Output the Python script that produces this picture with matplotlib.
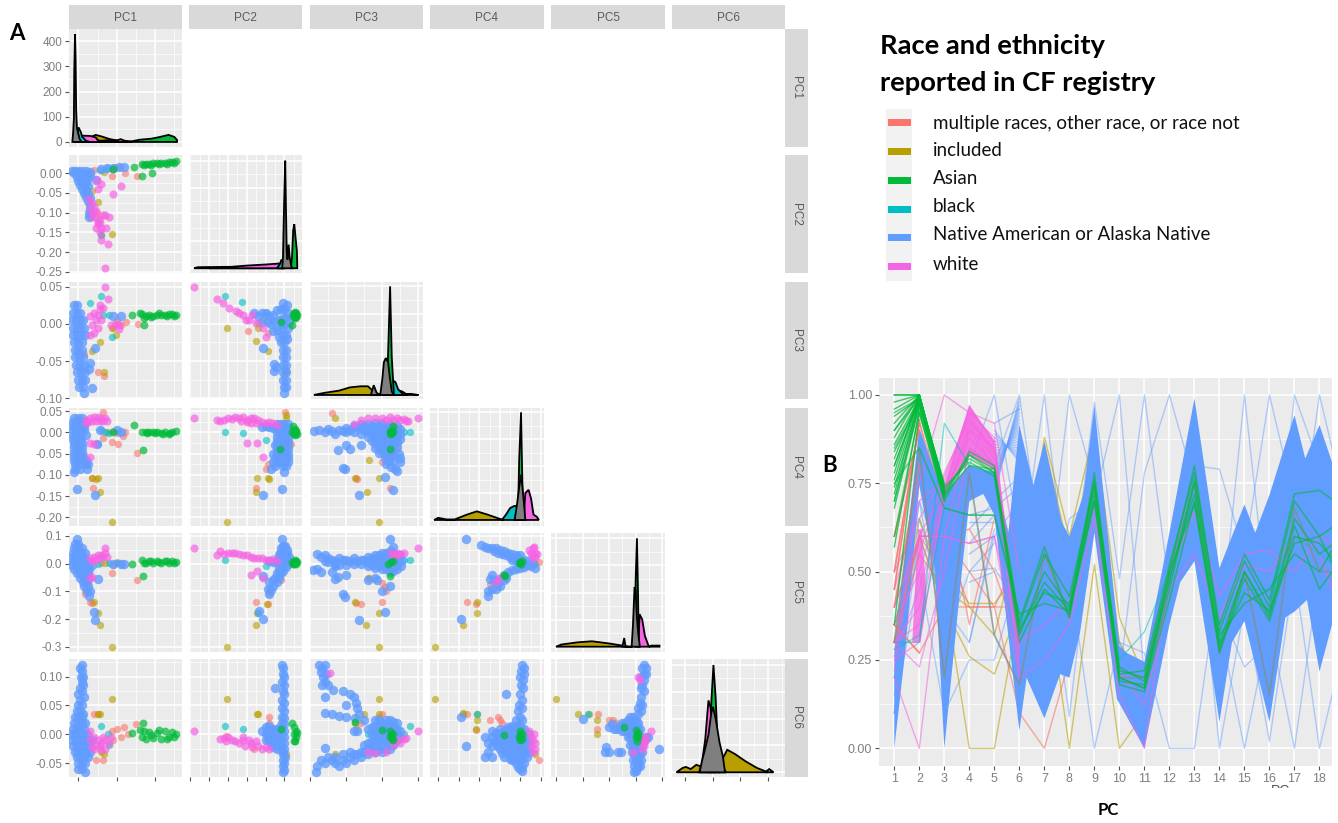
import matplotlib
matplotlib.use('Agg')
import matplotlib.pyplot as plt
from matplotlib.patches import Rectangle

W, H = 1338, 823
plt.rcParams['font.family'] = ['Liberation Sans', 'DejaVu Sans']

RED, OLIVE, GREEN, TEAL, BLUE, PINK = '#F8766D', '#B79F00', '#00BA38', '#00BFC4', '#619CFF', '#F564E3'
GRAY = '#7F7F7F'

pc_names = ['PC1', 'PC2', 'PC3', 'PC4', 'PC5', 'PC6']
legend_labels = ['multiple races, other race, or race not', 'included', 'Asian', 'black',
                 'Native American or Alaska Native', 'white']
legend_colors = [RED, OLIVE, GREEN, TEAL, BLUE, PINK]

# axis ranges and ticks of each PC, read from the strips of the matrix
pc1_range, pc1_ticks = (-0.026, 0.27), [0.0, 0.1, 0.2]
pc2_range, pc2_ticks = (-0.2533, 0.0465), [-0.25, -0.20, -0.15, -0.10, -0.05, 0.00]
pc3_range, pc3_ticks = (-0.101, 0.0563), [-0.10, -0.05, 0.00, 0.05]
pc4_range, pc4_ticks = (-0.22, 0.0575), [-0.20, -0.15, -0.10, -0.05, 0.00, 0.05]
pc5_range, pc5_ticks = (-0.319, 0.1108), [-0.3, -0.2, -0.1, 0.0, 0.1]
pc6_range, pc6_ticks = (-0.0741, 0.1307), [-0.05, 0.00, 0.05, 0.10]
pc1_y_range, pc1_y_ticks = (-20, 448), [0, 100, 200, 300, 400]

# scatter points, name is p<row pc><col pc>_<colour>, (x, y)
p21_blue = [(-.018,.005),(-.01,.005),(0,.005),(.01,.005),(.02,.005),(.03,.003),(-.012,0),(0,-.002),(.01,-.002),(.02,-.002),(.03,-.005),(-.005,-.01),(.005,-.01),(.015,-.01),(.025,-.012),(0,-.02),(.01,-.02),(.02,-.022),(.005,-.03),(.015,-.03),(.025,-.032),(.01,-.04),(.02,-.042),(.015,-.05),(.025,-.052),(.02,-.06),(.03,-.062),(.025,-.07),(.03,-.08),(.03,-.09),(.028,-.1),(.028,-.11),(.045,-.018),(.06,.012),(.075,.013),(.09,.014),(.105,.015),(.12,.015)]
p21_pink = [(.028,-.065),(.035,-.075),(.04,-.085),(.03,-.09),(.037,-.1),(.045,-.095),(.035,-.11),(.045,-.11),(.05,-.12),(.05,-.13),(.045,-.14),(.055,-.125),(.06,-.14),(.055,-.15),(.058,-.17),(.07,-.105),(.063,-.105),(.08,-.11),(.072,-.138),(.077,-.18),(.07,-.24),(.09,-.053),(.111,-.032),(.06,-.028),(.048,-.017),(.05,-.04)]
p21_green = [(.165,.024),(.175,.024),(.185,.024),(.195,.025),(.205,.025),(.215,.026),(.225,.027),(.235,.028),(.245,.029),(.255,.03),(.17,.021),(.19,.022),(.21,.023),(.23,.024),(.25,.026),(.145,.017),(.165,-.008),(.193,0),(.09,.012)]
p21_red = [(.122,.002),(.152,-.008),(.087,-.006),(.096,.017),(.109,.017),(.04,.008),(.048,-.102),(.055,-.115)]
p21_olive = [(.067,.004),(.052,-.074),(.035,-.044),(.087,-.154),(.058,-.158)]
p21_teal = [(.06,-.158),(.029,-.11),(.078,.013),(.056,.008)]

p31_blue = [(-.012,.026),(-.003,.026),(-.015,.015),(-.005,.015),(.005,.015),(-.016,.005),(-.006,.005),(.004,.005),(.012,.005),(-.015,-.005),(-.005,-.005),(.005,-.005),(.015,-.005),(-.014,-.015),(-.004,-.015),(.006,-.015),(.016,-.015),(-.012,-.025),(-.002,-.025),(.008,-.025),(-.01,-.035),(0,-.035),(.01,-.035),(-.008,-.045),(.002,-.045),(.012,-.045),(-.006,-.055),(.004,-.055),(.014,-.055),(.03,-.052),(-.004,-.065),(.006,-.065),(.016,-.065),(.028,-.06),(-.002,-.075),(.008,-.075),(.018,-.075),(.002,-.085),(.012,-.085),(.035,-.086),(.015,-.093),(.043,-.032),(.09,.01),(.11,.01)]
p31_pink = [(.03,.01),(.04,.015),(.05,.012),(.055,.02),(.045,.005),(.035,-.002),(.05,-.005),(.04,-.012),(.06,.005),(.03,-.015),(.055,.025),(.07,.05),(.078,.034),(.065,.022),(.085,-.002),(.1,0),(.105,-.002),(.107,-.007)]
p31_green = [(.165,.013),(.175,.011),(.185,.012),(.195,.011),(.205,.012),(.215,.012),(.225,.012),(.235,.013),(.245,.013),(.255,.012),(.14,.012),(.17,-.002),(.16,.014),(.172,.008),(.19,.009),(.21,.014),(.23,.01),(.25,.01)]
p31_red = [(.1,.005),(.11,-.002),(.125,.002),(.154,0),(.09,-.006),(.052,-.065),(.067,-.07),(.015,-.04),(.095,0)]
p31_olive = [(.067,-.065),(.055,-.024),(.034,-.036),(.087,-.005),(.097,-.015)]
p31_teal = [(.058,.038),(.029,.028),(.065,.012),(.08,.012),(.087,-.017)]

p41_blue = [(-.012,.035),(-.002,.035),(.008,.035),(-.015,.025),(-.005,.025),(.005,.025),(.015,.025),(-.015,.015),(-.005,.015),(.005,.015),(.015,.015),(-.015,.005),(-.005,.005),(.005,.005),(.015,.005),(-.015,-.005),(-.005,-.005),(.005,-.005),(.02,-.005),(-.014,-.015),(-.004,-.015),(.006,-.015),(-.012,-.025),(-.002,-.025),(.008,-.025),(-.012,-.035),(-.002,-.035),(.008,-.035),(-.012,-.045),(-.002,-.045),(.01,-.045),(-.012,-.055),(0,-.055),(.01,-.055),(-.012,-.065),(0,-.065),(.013,-.065),(.02,-.065),(-.01,-.075),(.002,-.075),(.02,-.075),(.025,-.075),(-.01,-.085),(.003,-.085),(.023,-.085),(-.011,-.094),(-.003,-.134),(.043,-.148),(.1,.005),(.11,0),(.055,.006),(.048,-.026)]
p41_pink = [(.02,.03),(.03,.035),(.04,.037),(.05,.037),(.06,.035),(.07,.033),(.075,.027),(.065,.028),(.055,.028),(.045,.028),(.035,.027),(.025,.025),(.02,.022),(.03,-.025),(.04,-.027),(.03,-.058)]
p41_green = [(.145,.017),(.168,-.041),(.09,.002),(.165,.001),(.175,.002),(.185,0),(.195,.002),(.205,0),(.215,-.001),(.225,.001),(.235,-.003),(.245,0),(.255,.003),(.18,-.002),(.2,-.002),(.22,-.003),(.24,-.002)]
p41_red = [(.065,.047),(.087,-.022),(.102,-.026),(.152,-.049),(.1,-.002),(.09,.003),(.122,.002),(.115,-.008),(.065,-.012),(.039,-.13),(.015,-.054),(.02,-.075),(.035,-.106)]
p41_olive = [(.05,-.106),(.035,-.108),(.045,-.11),(.055,-.141),(.087,-.21),(.074,0)]
p41_teal = [(.07,0),(.08,-.002),(.06,.005),(.05,-.028)]

p51_blue = [(-.01,.07),(0,.07),(-.012,.055),(-.002,.055),(.008,.055),(-.014,.04),(-.004,.04),(.006,.04),(.016,.04),(-.015,.025),(-.005,.025),(.005,.025),(.015,.025),(-.015,.01),(-.005,.01),(.005,.01),(.015,.01),(.025,.01),(-.016,-.005),(-.006,-.005),(.004,-.005),(.014,-.005),(.024,-.005),(.034,-.005),(-.012,-.02),(-.002,-.02),(.008,-.02),(.018,-.02),(.028,-.02),(.05,-.055),(-.005,-.035),(.005,-.035),(.015,-.035),(.025,-.035),(.005,-.05),(.015,-.05),(.025,-.05),(.012,-.065),(.022,-.065),(.015,-.08),(.025,-.08),(.022,-.1),(.03,-.1),(.027,-.115),(-.003,.088),(.043,-.205),(.041,-.175),(.09,0),(.11,0),(.12,0)]
p51_pink = [(.03,.02),(.04,.025),(.05,.03),(.06,.032),(.07,.04),(.065,.025),(.055,.02),(.045,.015),(.035,.01),(.075,.025),(.07,.058),(.035,-.047),(.03,-.05)]
p51_green = [(.14,0),(.167,-.043),(.165,.012),(.175,.002),(.185,.008),(.195,.003),(.205,.01),(.215,.004),(.225,.008),(.235,.003),(.245,.01),(.255,.006),(.17,.004),(.19,.01),(.21,.006),(.23,.01),(.25,.003)]
p51_red = [(.152,-.06),(.087,-.034),(.09,-.005),(.1,.005),(.11,-.002),(.06,.003),(.017,-.096),(.018,-.11),(.035,-.141),(.03,-.14)]
p51_olive = [(.052,-.177),(.055,-.22),(.087,-.3),(.04,-.14),(.07,.002)]
p51_teal = [(.1,.002),(.05,-.002),(.08,.003)]

p61_blue = [(.008,.12),(.01,.11),(.005,.115),(.012,.1),(.007,.1),(.01,.09),(.012,.085),(.005,.08),(.01,.075),(.015,.065),(0,.07),(.005,.06),(0,.05),(.008,.05),(-.005,.04),(.005,.04),(.012,.035),(-.01,.03),(0,.03),(.01,.03),(-.012,.02),(-.002,.02),(.008,.02),(.018,.02),(-.015,.01),(-.005,.01),(.005,.01),(.015,.01),(-.018,0),(-.008,0),(.002,0),(.012,0),(.022,0),(-.016,-.01),(-.006,-.01),(.004,-.01),(.014,-.01),(.024,-.01),(.034,-.01),(-.014,-.02),(-.004,-.02),(.006,-.02),(.016,-.02),(.026,-.02),(-.01,-.03),(0,-.03),(.01,-.03),(.02,-.03),(.03,-.03),(-.005,-.04),(.005,-.04),(.015,-.04),(.025,-.04),(-.002,-.05),(.008,-.05),(.018,-.05),(-.002,-.06),(.01,-.06),(.016,-.065)]
p61_pink = [(.03,-.01),(.04,-.005),(.05,-.01),(.06,-.015),(.07,-.01),(.08,-.015),(.055,-.02),(.045,-.018),(.035,-.022),(.065,-.005),(.03,.005),(.04,-.025),(.06,-.028),(.07,-.025),(.085,-.005)]
p61_green = [(.167,.02),(.14,.002),(.16,.008),(.165,-.004),(.175,-.008),(.185,.004),(.195,-.006),(.205,.002),(.215,-.009),(.225,.005),(.235,-.004),(.245,.004),(.255,.001),(.17,.005),(.19,-.002),(.21,.007),(.23,-.008),(.25,-.004)]
p61_red = [(.04,.035),(.05,.035),(.045,-.045),(.065,-.045),(.087,.005),(.1,.01),(.12,.012),(.15,.018),(.11,-.005),(.09,-.01),(.13,0)]
p61_olive = [(.087,.062),(.055,.036),(.05,.035),(.067,-.034),(.06,-.03)]
p61_teal = [(.06,.014),(.078,0),(.08,-.018)]

p32_blue = [(-.08,.015),(-.07,.01),(-.06,.015),(-.05,.015),(-.04,.01),(-.03,.012),(-.02,.018),(-.01,.02),(0,.02),(.01,.015),(-.06,.002),(-.045,.003),(-.035,0),(-.025,.002),(-.015,.005),(-.005,.008),(.005,.008),(.012,.003),(-.03,-.01),(-.02,-.008),(-.01,-.005),(0,-.002),(.01,-.005),(-.015,-.018),(-.005,-.015),(.005,-.015),(-.01,-.025),(0,-.025),(.008,-.02),(-.005,-.035),(.003,-.035),(-.003,-.045),(.005,-.045),(-.003,-.055),(.005,-.055),(-.003,-.065),(.004,-.065),(-.004,-.075),(.004,-.075),(-.002,-.085),(.004,-.085),(0,-.093),(-.027,-.054),(-.027,-.064),(-.022,-.058),(.008,.025),(-.005,.028),(-.058,-.033)]
p32_pink = [(-.241,.05),(-.179,.034),(-.164,.028),(-.146,.021),(-.129,.017),(-.111,.012),(-.093,.005),(-.075,.001),(-.102,.005),(-.12,.015),(-.058,-.006),(-.049,-.017),(-.085,.012)]
p32_green = [(.022,.012),(.027,.016),(.032,.012),(.027,.008),(.027,.012),(.025,.014),(.03,.009),(.024,.009),(.03,.015),(-.008,.003),(.02,-.001)]
p32_red = [(-.098,-.009),(-.071,.001),(-.058,.005),(-.044,-.012),(0,-.069),(.004,-.062)]
p32_olive = [(-.153,-.005),(-.075,-.023),(-.043,-.036),(-.07,-.006),(.003,-.065)]
p32_teal = [(-.157,.038),(-.113,.029),(-.01,.003),(-.05,.014)]

p42_blue = [(-.02,.02),(-.01,.02),(0,.02),(.01,.02),(-.02,.01),(-.01,.01),(0,.01),(.01,.01),(-.02,0),(-.01,0),(0,0),(.01,0),(-.02,-.01),(-.01,-.01),(0,-.01),(.01,-.01),(-.02,-.02),(-.01,-.02),(0,-.02),(.01,-.02),(-.02,-.03),(-.01,-.03),(0,-.03),(.01,-.03),(-.02,-.04),(-.01,-.04),(0,-.04),(.01,-.04),(-.02,-.05),(-.01,-.05),(0,-.05),(.01,-.05),(-.02,-.06),(-.01,-.06),(0,-.06),(.01,-.06),(-.02,-.07),(-.01,-.07),(0,-.07),(.01,-.07),(-.005,-.08),(.005,-.08),(0,-.092),(-.025,-.08),(-.03,-.07),(-.035,-.085),(-.03,.01),(-.04,.012),(-.05,.015),(-.06,.012),(-.025,-.03),(-.03,-.05),(-.025,-.06),(-.007,-.134),(-.058,-.148)]
p42_pink = [(-.241,.033),(-.18,.03),(-.17,.028),(-.16,.03),(-.15,.035),(-.14,.032),(-.13,.036),(-.12,.033),(-.11,.036),(-.1,.03),(-.09,.033),(-.08,.035),(-.07,.03),(-.06,.025),(-.05,.022),(-.04,.025),(-.03,.022),(-.02,.018),(-.1,.025),(-.115,.026),(-.09,.022),(-.075,.022),(-.1,-.025),(-.072,-.025),(-.058,-.058)]
p42_green = [(.025,.003),(.03,0),(.025,-.003),(.03,.004),(.02,0),(.032,-.003),(.027,-.006),(.028,.007),(.022,.015),(-.012,-.04)]
p42_red = [(.002,.047),(-.075,-.13),(-.044,-.074),(.018,-.026),(-.05,-.085)]
p42_olive = [(.003,.034),(.005,.042),(-.072,-.106),(-.044,-.108),(-.04,-.11),(-.075,-.141),(-.153,-.21)]
p42_teal = [(-.157,.002),(-.111,-.002),(-.049,-.018)]

p52_blue = [(-.006,.088),(-.005,.065),(.002,.065),(-.01,.055),(0,.055),(.007,.05),(-.012,.04),(-.003,.04),(.006,.04),(-.015,.03),(-.005,.03),(.005,.03),(.012,.025),(-.018,.015),(-.008,.015),(.002,.015),(.01,.012),(-.02,.005),(-.01,.002),(0,.002),(.01,0),(-.03,.005),(-.04,.008),(-.015,-.01),(-.005,-.01),(.005,-.012),(-.015,-.022),(-.005,-.025),(-.02,-.035),(-.01,-.035),(-.025,-.05),(-.015,-.05),(-.03,-.06),(-.02,-.065),(-.04,-.065),(-.03,-.08),(-.045,-.09),(-.035,-.095),(-.04,-.11),(-.058,-.045),(-.058,-.2),(-.068,-.17)]
p52_pink = [(-.241,.057),(-.18,.03),(-.17,.045),(-.16,.035),(-.15,.04),(-.14,.038),(-.13,.04),(-.12,.035),(-.11,.03),(-.1,.03),(-.09,.025),(-.08,.022),(-.07,.02),(-.06,.02),(-.05,.012),(-.04,.015),(-.03,.018),(-.02,.01),(-.09,-.04),(-.073,-.025),(-.058,-.05)]
p52_green = [(.025,.005),(.03,.01),(.03,0),(.025,-.002),(.02,.005),(.033,.005),(.027,.012),(.022,0)]
p52_red = [(-.075,-.139),(-.044,-.144),(-.04,-.09),(-.04,-.105),(-.01,-.06)]
p52_olive = [(-.073,-.177),(-.075,-.22),(-.153,-.3),(-.046,-.144)]
p52_teal = [(-.157,.012),(-.05,-.01),(-.07,-.177)]

p62_blue = [(-.006,.12),(-.003,.115),(-.005,.105),(-.002,.1),(-.006,.09),(-.002,.085),(-.005,.075),(0,.07),(-.025,.08),(-.006,.06),(0,.055),(-.006,.045),(0,.04),(-.006,.03),(0,.028),(-.006,.02),(0,.018),(-.012,.012),(-.05,.012),(-.04,.015),(-.03,.01),(-.02,.01),(-.01,.005),(0,.005),(-.06,.005),(-.05,0),(-.04,0),(-.03,0),(-.02,0),(-.01,-.005),(0,-.005),(-.05,-.01),(-.04,-.012),(-.03,-.012),(-.02,-.012),(-.01,-.015),(0,-.015),(-.03,-.022),(-.02,-.025),(-.01,-.025),(0,-.025),(-.005,-.035),(-.005,-.045),(.002,-.04),(-.005,-.055),(0,-.062),(-.005,-.065),(-.045,.006),(-.035,.006),(-.025,.006),(-.015,.006),(-.045,-.006),(-.035,-.006),(-.025,-.006),(-.015,-.006),(-.035,-.018),(-.025,-.018),(-.015,-.02),(-.005,-.03),(-.002,-.05)]
p62_pink = [(-.241,.005),(-.17,-.008),(-.16,-.007),(-.155,-.012),(-.14,-.01),(-.13,-.012),(-.12,-.015),(-.11,-.01),(-.105,-.02),(-.095,-.01),(-.09,-.015),(-.085,-.022),(-.075,-.012),(-.07,-.02),(-.06,-.025),(-.15,-.005),(-.11,-.005),(-.05,-.022),(-.04,-.025)]
p62_green = [(.025,.012),(.03,.006),(.025,0),(.03,-.005),(.025,-.012),(.033,.003),(.028,-.012),(.02,.02),(-.01,.01)]
p62_red = [(-.155,-.003),(-.04,.03),(-.04,.02),(-.035,.01),(-.08,-.025)]
p62_olive = [(-.153,.062),(-.073,.036),(-.07,.036),(.005,-.034)]
p62_teal = [(-.157,.014),(-.11,.01)]

p43_blue = [(-.095,.003),(-.088,.006),(-.08,0),(-.07,.003),(-.075,.008),(-.065,-.004),(-.06,.006),(-.05,.01),(-.05,0),(-.04,.015),(-.04,0),(-.03,.02),(-.03,.01),(-.03,-.003),(-.02,.02),(-.02,.01),(-.02,0),(-.02,-.01),(-.01,.022),(-.01,.01),(-.01,0),(-.01,-.012),(-.01,-.024),(0,.022),(0,.01),(0,0),(0,-.012),(0,-.024),(0,-.036),(.01,.02),(.01,.01),(.01,0),(.01,-.012),(.01,-.024),(.01,-.036),(.01,-.048),(.01,-.06),(.02,.015),(.02,.003),(.02,-.01),(.02,-.022),(-.005,-.048),(.003,-.06),(.005,-.075),(.012,-.082),(.02,-.09),(-.05,-.03),(-.062,-.042),(-.045,-.04),(-.03,-.03),(-.054,-.083),(-.052,-.086),(.023,-.05),(.025,-.07),(.018,-.085),(.024,-.06),(.015,-.135),(-.033,-.146),(.003,-.105),(-.004,-.04),(-.025,.015),(-.025,.005),(-.015,.015),(-.015,.005),(-.015,-.005),(-.005,.016),(-.005,.005),(-.005,-.006),(-.005,-.018),(-.005,-.03),(.005,.016),(.005,.005),(.005,-.006),(.005,-.018),(.005,-.03),(.005,-.042),(.005,-.054),(.015,.01),(.015,-.004),(.015,-.016),(.015,-.03),(.015,-.042),(.015,-.054),(.015,-.066),(.025,.008),(.025,-.004),(.025,-.016),(-.035,.012),(-.045,.006),(-.055,.004),(-.01,-.036),(-.015,-.02),(.02,-.035),(.008,-.068)]
p43_pink = [(-.03,.03),(-.02,.033),(-.01,.035),(0,.034),(.005,.03),(.01,.036),(.015,.03),(.02,.035),(.025,.03),(.03,.032),(.035,.028),(.05,.033),(-.04,.02),(.033,.028)]
p43_green = [(.012,.002),(.014,-.002),(.01,.004),(.015,.003),(.011,-.003),(.01,-.04),(.015,.015)]
p43_red = [(-.07,.046),(.02,-.04),(.01,-.13),(-.037,-.108),(-.035,-.11),(0,-.05),(0,-.07)]
p43_olive = [(-.065,.035),(-.038,-.106),(-.022,-.14),(-.005,-.106),(-.005,-.21),(-.018,-.065)]
p43_teal = [(.03,.002),(.038,.002)]

p53_blue = [(-.096,-.024),(-.09,-.02),(-.085,-.03),(-.09,.036),(-.085,.025),(-.08,.03),(-.08,.01),(-.075,.02),(-.07,.015),(-.07,-.03),(-.065,-.01),(-.065,.01),(-.06,.02),(-.06,-.005),(-.055,.012),(-.05,.015),(-.05,-.005),(-.04,.02),(-.04,0),(-.03,.015),(-.03,0),(-.02,.025),(-.02,.005),(-.02,-.01),(-.01,.03),(-.01,.015),(-.01,0),(-.01,-.015),(0,.04),(0,.025),(0,.01),(0,-.005),(0,-.02),(.01,.045),(.01,.03),(.01,.015),(.01,0),(.01,-.015),(.01,-.03),(.015,.06),(.017,.03),(.02,.015),(.02,0),(.02,-.02),(.01,.088),(-.01,-.05),(-.062,-.048),(-.065,-.055),(-.05,-.04),(-.054,-.108),(-.052,-.12),(-.033,-.205),(.003,-.175),(.01,-.08),(0,-.1),(-.008,-.06),(-.02,-.06),(-.075,.005),(-.065,0),(-.045,.008),(-.035,.01),(-.025,.012),(-.015,.02),(-.015,.008),(-.015,-.005),(-.005,.03),(-.005,.018),(-.005,.006),(-.005,-.008),(.005,.04),(.005,.025),(.005,.01),(.005,-.005),(.005,-.02),(.015,.04),(.015,.022),(.015,.006),(.015,-.01),(.015,-.028),(.024,.03),(.026,.008),(.026,-.01)]
p53_pink = [(.012,.04),(.02,.04),(.025,.035),(.015,.03),(.03,.04),(.02,.03),(.05,.058)]
p53_green = [(.012,.005),(.01,-.044),(.015,.01),(.008,0)]
p53_red = [(-.037,-.143),(-.03,-.145),(0,-.14),(.005,-.1),(0,-.07),(.003,-.085),(-.02,-.05)]
p53_olive = [(-.038,-.14),(-.023,-.22),(-.005,-.177),(-.005,-.3),(-.065,0),(-.018,-.05)]
p53_teal = [(.038,.012),(.03,.015)]

p63_blue = [(-.088,.12),(-.083,.115),(-.08,.12),(-.085,.108),(-.082,.1),(-.078,.105),(-.08,.09),(-.075,.085),(-.083,.085),(-.08,.065),(-.068,.077),(-.055,.075),(-.045,.07),(-.04,.065),(-.037,.055),(-.035,.045),(-.033,.035),(-.038,.028),(-.05,.05),(-.07,.035),(-.08,.037),(-.06,.032),(-.05,.03),(-.092,-.065),(-.09,-.055),(-.085,-.045),(-.075,-.04),(-.07,-.045),(-.065,-.05),(-.06,-.055),(-.055,-.045),(-.05,-.05),(-.045,-.04),(-.04,-.045),(-.04,-.035),(-.03,-.04),(-.03,-.03),(-.02,-.035),(-.02,-.025),(-.02,-.015),(-.01,-.03),(-.01,-.02),(-.01,-.01),(-.01,0),(0,-.03),(0,-.02),(0,-.01),(0,0),(0,.01),(0,.02),(.01,-.025),(.01,-.015),(.01,-.005),(.01,.005),(.01,.015),(.01,.025),(.02,-.01),(.02,0),(.02,.01),(.02,.02),(.025,.005),(-.01,.015),(-.01,.025),(-.02,.01),(-.025,.025),(-.035,.005),(-.04,.005),(-.08,-.024),(-.005,-.025),(-.005,-.012),(-.005,0),(-.005,.012),(-.005,.024),(.005,-.025),(.005,-.012),(.005,0),(.005,.012),(.005,.024),(.015,-.018),(.015,-.004),(.015,.01),(.015,.022),(-.015,-.025),(-.015,-.012),(-.015,0),(-.015,.012),(-.025,-.03),(-.025,-.018),(-.035,-.035),(-.045,-.03),(-.055,-.035),(-.065,-.04),(-.08,-.05),(.025,-.005)]
p63_pink = [(.02,-.01),(.025,-.015),(.03,-.008),(.015,-.018),(.033,-.007),(.05,.005),(-.073,.107),(.005,-.03),(-.01,-.033),(-.02,-.03)]
p63_green = [(.011,.005),(.012,-.002),(.013,-.008),(.01,-.005),(.015,0),(.015,-.01),(0,.008),(-.038,.022)]
p63_red = [(-.035,.01),(0,.035),(-.005,.03),(-.03,.02)]
p63_olive = [(-.005,.062),(-.025,.036),(-.004,.036),(-.065,-.034),(-.038,.02)]
p63_teal = [(.038,.014),(-.02,0),(.03,0)]

p54_blue = [(-.133,.09),(-.095,.067),(-.085,.062),(-.08,.055),(-.07,.055),(-.065,.045),(-.06,.055),(-.055,.04),(-.05,.05),(-.045,.035),(-.04,.045),(-.035,.03),(-.03,.04),(-.025,.025),(-.02,.035),(-.015,.02),(-.01,.03),(-.005,.02),(0,.01),(-.01,.01),(-.02,.015),(0,.03),(.005,0),(.01,.015),(.015,-.003),(.02,.01),(.025,-.01),(.03,.002),(.035,-.015),(.01,-.012),(0,-.015),(-.01,-.018),(-.02,-.022),(-.03,-.03),(-.035,-.05),(-.04,-.04),(-.05,-.055),(-.07,-.04),(-.075,-.055),(-.065,-.06),(-.055,-.065),(-.05,-.08),(-.06,-.09),(-.07,-.09),(-.08,-.1),(-.08,-.115),(-.145,-.2),(-.04,-.06)]
p54_pink = [(.02,.05),(.03,.055),(.035,.04),(.028,.03),(.04,.035),(.03,.02),(.035,.025),(.025,.04),(.033,.06),(-.053,-.053),(-.06,-.065)]
p54_green = [(0,.005),(.002,0),(-.004,.002),(.003,.008),(-.04,-.042),(-.038,-.044)]
p54_red = [(.045,.005),(-.075,-.075),(-.055,-.08),(-.13,-.14),(-.108,-.145),(-.06,-.07)]
p54_olive = [(-.105,-.14),(-.105,-.177),(-.14,-.22),(-.208,-.3),(.035,0),(-.058,-.07)]
p54_teal = [(-.04,-.04)]

p64_blue = [(.005,.12),(.01,.115),(.002,.11),(.008,.105),(0,.1),(.006,.095),(.002,.085),(.007,.08),(0,.07),(.005,.06),(-.003,.05),(.003,.045),(-.035,.07),(-.005,.04),(0,.03),(-.01,.025),(.005,.025),(-.085,-.005),(-.08,-.015),(-.07,-.005),(-.07,-.02),(-.07,.005),(-.06,-.015),(-.06,.002),(-.05,.01),(-.05,-.01),(-.05,-.025),(-.04,.005),(-.04,-.01),(-.04,-.025),(-.04,-.04),(-.03,.012),(-.03,-.005),(-.03,-.02),(-.03,-.035),(-.02,.015),(-.02,-.005),(-.02,-.02),(-.02,-.035),(-.02,-.045),(-.01,.015),(-.01,-.005),(-.01,-.02),(-.01,-.035),(-.01,-.05),(0,.015),(0,0),(0,-.015),(0,-.03),(0,-.045),(0,-.06),(.01,.01),(.01,-.005),(.01,-.02),(.01,-.035),(.01,-.05),(.02,0),(.02,-.015),(.02,-.03),(-.133,-.02),(-.145,.03),(-.08,-.03),(-.085,-.04),(-.07,-.04),(.003,-.063),(-.065,-.012),(-.055,0),(-.055,-.02),(-.045,.002),(-.045,-.016),(-.045,-.032),(-.035,.008),(-.035,-.012),(-.035,-.028),(-.025,.01),(-.025,-.012),(-.025,-.028),(-.025,-.042),(-.015,.008),(-.015,-.012),(-.015,-.028),(-.015,-.042),(-.005,.008),(-.005,-.01),(-.005,-.026),(-.005,-.042),(-.005,-.056),(.005,.005),(.005,-.012),(.005,-.028),(.005,-.042),(.005,-.056),(.015,-.01),(.015,-.025),(.015,-.04)]
p64_pink = [(.025,-.005),(.03,-.01),(.035,-.015),(.027,-.02),(.033,0),(.035,-.025),(.03,-.03),(.02,.005)]
p64_green = [(0,.005),(0,-.002),(0,-.01),(.004,0),(-.004,-.005),(.004,-.008),(-.04,-.002)]
p64_red = [(.045,-.045),(-.13,.036),(-.108,.008),(-.075,.025),(-.055,.03),(-.05,.025),(-.045,.02)]
p64_olive = [(-.208,.062),(-.14,.036),(-.105,.036),(-.105,.025),(-.108,.01),(.035,-.034),(-.14,.037)]
p64_teal = [(-.105,.036),(-.04,-.002)]

p65_blue = [(.03,.12),(.04,.115),(.025,.115),(.04,.105),(.03,.105),(.02,.1),(.03,.095),(.025,.085),(.02,.08),(.03,.075),(.02,.065),(.015,.055),(.025,.05),(.01,.045),(.02,.04),(.01,.035),(-.1,.012),(-.09,.018),(-.08,.01),(-.07,.01),(-.06,.015),(-.05,.02),(-.04,.02),(-.03,.025),(-.02,.03),(-.01,.03),(0,.025),(.01,.02),(-.05,.005),(-.04,.005),(-.03,.01),(-.02,.01),(-.01,.01),(0,.01),(.01,.005),(-.03,-.005),(-.02,-.005),(-.01,-.005),(0,-.005),(.01,-.01),(.02,-.005),(-.02,-.018),(-.01,-.02),(0,-.02),(.01,-.025),(.02,-.02),(.03,-.01),(.04,-.005),(-.015,-.03),(-.005,-.035),(.005,-.035),(.015,-.035),(-.01,-.045),(0,-.045),(.01,-.045),(.02,-.045),(-.005,-.055),(.005,-.058),(.015,-.055),(-.005,-.065),(0,-.063),(-.11,-.022),(-.115,-.03),(-.1,-.03),(-.065,-.03),(-.055,-.03),(-.2,.027),(.09,-.025),(.045,-.005),(-.045,.012),(-.035,.012),(-.025,.018),(-.025,.002),(-.015,.02),(-.015,.002),(-.015,-.012),(-.005,.02),(-.005,.002),(-.005,-.012),(-.005,-.025),(.005,.015),(.005,0),(.005,-.015),(.005,-.025),(.015,-.012),(.015,-.025),(.015,.01),(.025,-.015),(.025,-.03),(.01,-.055)]
p65_pink = [(.025,-.01),(.035,-.005),(.03,-.015),(.04,-.01),(.03,-.02),(.025,-.025),(.058,.005),(.01,.1),(.015,.095),(-.008,-.03)]
p65_green = [(.003,.008),(.005,0),(.01,-.005),(.005,-.012),(0,-.005),(.01,.002),(-.045,.012)]
p65_red = [(-.14,.036),(-.145,.01),(-.1,.025),(-.085,.025),(-.07,.012),(-.075,.02),(0,-.035)]
p65_olive = [(-.3,.062),(-.218,.036),(-.175,.036),(-.145,.025),(-.145,0),(0,-.034)]
p65_teal = [(-.178,.036)]

# density outlines on the diagonal, (x, height), height of PC2..PC6 is % of the peak
d1_green = [(.12,0),(.14,3),(.16,9),(.19,13),(.21,19),(.235,28),(.25,20),(.257,8),(.257,0)]
d1_olive = [(.01,0),(.03,18),(.045,28),(.06,22),(.08,12),(.1,6),(.12,3),(.14,0)]
d1_red = [(.04,0),(.06,5),(.08,7),(.1,6),(.11,11),(.12,5),(.14,0)]
d1_pink = [(-.002,0),(.003,22),(.01,25),(.03,24),(.045,18),(.05,8),(.06,2),(.07,0)]
d1_teal = [(-.01,0),(-.004,30),(0,58),(.006,40),(.01,20),(.02,4),(.03,0)]
d1_gray = [(-.016,0),(-.014,35),(-.012,90),(-.011,280),(-.009,428),(-.0075,330),(-.006,130),(-.004,55),(0,30),(.003,12),(.008,0)]

d2_olive = [(-.24,0),(-.23,1),(-.1,1.5),(-.02,1),(0,0)]
d2_pink = [(-.2,0),(-.15,1),(-.1,2.5),(-.05,3.5),(-.01,4.5),(-.005,2),(0,0)]
d2_teal = [(-.02,0),(-.012,4),(-.008,8),(-.003,6),(0,0)]
d2_green = [(.017,0),(.02,10),(.023,35),(.026,41),(.029,30),(.033,16),(.034,0)]
d2_gray = [(-.006,0),(-.004,10),(-.001,60),(.002,100),(.004,55),(.006,15),(.008,8),(.011,22),(.014,10),(.018,2),(.02,0)]

d3_olive = [(-.095,0),(-.08,2),(-.06,4),(-.045,7),(-.03,8),(-.02,8),(-.012,3),(-.005,0)]
d3_red = [(.02,0),(.03,1),(.04,1),(.05,0)]
d3_pink = [(0,0),(.01,2),(.02,5),(.028,3),(.035,0)]
d3_teal = [(0,0),(.012,14),(.018,12),(.022,5),(.03,0)]
d3_green = [(.006,0),(.008,40),(.0107,100),(.013,35),(.016,0)]
d3_gray = [(-.016,0),(-.012,9),(-.008,2),(-.003,0),(0,15),(.002,30),(.0047,34),(.008,30),(.01,18),(.013,3),(.016,0)]

d4_olive = [(-.21,0),(-.2,2),(-.18,.5),(-.16,.5),(-.13,5),(-.106,8),(-.08,5),(-.05,1),(-.04,0)]
d4_teal = [(-.045,0),(-.035,5),(-.025,11),(-.015,13),(-.005,13),(0,0)]
d4_pink = [(.008,0),(.012,25),(.02,28),(.026,20),(.032,5),(.04,3),(.045,0)]
d4_green = [(-.006,0),(-.003,55),(.0016,100),(.004,50),(.007,0)]
d4_gray = [(-.014,0),(-.008,15),(-.003,30),(.0015,42),(.005,30),(.01,10),(.012,0)]

d5_olive = [(-.3,0),(-.28,2),(-.22,4),(-.165,5),(-.1,3),(-.05,1),(-.03,0)]
d5_red = [(.05,0),(.06,1),(.09,1),(.09,0)]
d5_pink = [(.01,0),(.015,30),(.025,25),(.035,10),(.05,0)]
d5_green = [(-.003,0),(0,60),(.005,100),(.009,50),(.012,0)]
d5_gray = [(-.05,0),(-.043,8),(-.038,0),(-.015,0),(-.01,20),(-.004,55),(0,52),(.004,30),(.01,12),(.016,0)]

d6_olive = [(-.066,0),(-.055,4),(-.049,5),(-.04,3),(-.03,7),(-.02,5),(.01,5),(.02,15),(.026,21),(.04,17),(.06,10),(.08,4),(.09,2),(.1,0)]
d6_red = [(.095,0),(.102,3),(.11,0)]
d6_pink = [(-.025,0),(-.02,8),(-.014,30),(-.008,67),(-.004,60),(0,30),(.004,0)]
d6_teal = [(.01,0),(.02,3),(.024,0)]
d6_green = [(-.008,0),(-.004,55),(.001,100),(.005,70),(.008,35),(.012,0)]
d6_gray = [(-.024,0),(-.02,10),(-.014,22),(-.008,35),(-.003,55),(0,61),(.005,50),(.012,28),(.018,15),(.022,0)]

# panel B, values per PC (the last one is cut by the picture edge)
pc_axis = list(range(1, 20))
pc_tick_labels = [str(i) for i in range(1, 19)]
# outline of the solid blue mass with the dips between PCs
blue_top_x = [1, 2, 2.96, 4, 5, 5.56, 6, 6.56, 7, 7.69, 8, 8.56, 9, 10, 10.29, 11, 12, 13, 14, 15, 15.43, 16, 17, 17.43, 18, 18.5]
blue_top_y = [.27, .905, .717, .80, .78, .61, .915, .745, .868, .64, .60, .717, .97, .29, .27, .245, .61, .99, .51, .69, .61, .717, .943, .82, .915, .81]
blue_bot_x = [1, 1.43, 2, 2.63, 3, 3.7, 4, 4.56, 5, 6, 6.29, 7, 7.63, 8, 8.43, 9, 9.9, 11, 12, 12.43, 13, 14, 14.5, 15, 16, 16.63, 17, 17.5, 18, 18.5]
blue_bot_y = [0, .27, .745, .5, 0, .50, .70, .72, .66, .05, .2, .085, .21, .2, .33, .61, .14, 0, .35, .47, .53, .075, .30, .36, .075, .37, .387, .42, .217, .35]
pink_top_x = [3, 4, 5]
pink_top_y = [.74, .97, .87]
pink_bot_y = [.72, .83, .79]
pink_left_x = [1.72, 1.95, 2.1, 2.3, 2.05]
pink_left_y = [.30, .62, .62, .42, .30]

blue_lines = [
    [.1,.6,.4,.8,1.0,.6,.4,1.0,.75,.3,.15,.5,.8,.3,.5,.3,.7,.6,.5],
    [.2,.7,.5,.85,.8,1.0,.5,.4,.7,1.0,.2,.5,.7,.3,1.0,.35,.7,.6,.5],
    [.1,.8,.3,.8,.75,.5,1.0,.4,.98,.48,1.0,.45,.8,.79,.55,1.0,.7,.65,.6],
    [.2,.6,.6,.7,.8,.3,.6,.09,.7,.2,.78,1.0,.75,.35,0,.35,1.0,.8,.7],
    [.1,.5,.1,.25,.25,.5,.5,.5,0,.3,.27,0,0,.5,.4,.02,.5,1.0,.7],
    [.15,.65,.4,.3,.6,.7,.4,.3,.65,.15,.05,.5,.7,0,.4,.35,0,.5,.3],
    [.2,.7,.3,.5,.51,.4,.3,.65,.7,.25,.15,.5,.8,.4,.23,.3,.5,0,.3],
]
blue_fan_pc5 = [.72,.73,.74,.75,.76,.77,.78,.79,.8,.81,.82,.83,.84,.85,.86,.87,.88,.89,.9,.7,.68,.92]
blue_fan_pc6 = [.99,.98,.97,.96,.95,.94,.93,.92,.91,.9,.89,.88,.87,.86,.85,.84,.83,.82,.81,.77,.74,.96]
blue_low_pc4 = [.62,.58,.55,.5,.47,.3,.66,.64]
blue_low_pc5 = [.7,.66,.6,.58,.5,.62,.68,.64]

green_fan_pc1 = [.35,.57,.68,.7,.72,.74,.76,.78,.8,.82,.84,.86,.88,.9,.92,.94,.96,.98,1.0,1.0]
green_fan_pc2 = [.95,.96,.97,.98,.99,.98,.99,1.0,.99,1.0,.98,.99,1.0,.99,1.0,.99,1.0,1.0,1.0,1.0]
green_fan_pc3 = [.70,.71,.72,.73,.72,.74,.71,.72,.73,.74,.72,.71,.73,.75,.72,.74,.73,.72,.74,.73]
green_lines = [
    [.8,.99,.72,.83,.79,.35,.55,.43,.75,.22,.2,.5,.8,.33,.53,.4,.7,.6,.65],
    [.85,.98,.73,.82,.78,.32,.5,.4,.72,.2,.17,.45,.75,.3,.5,.38,.65,.55,.6],
    [.9,1.0,.74,.81,.77,.3,.45,.38,.7,.18,.16,.42,.7,.27,.48,.36,.6,.58,.5],
    [.7,.97,.71,.84,.8,.36,.57,.37,.78,.21,.22,.52,.78,.35,.55,.42,.72,.73,.68],
    [.6,.95,.7,.83,.78,.33,.47,.39,.74,.19,.18,.48,.72,.29,.44,.39,.58,.6,.45],
    [.95,.99,.72,.8,.79,.34,.44,.41,.76,.23,.19,.47,.76,.32,.41,.45,.55,.5,.62],
    [.75,.85,.68,.66,.66,.38,.41,.39,.7,.2,.17,.5,.69,.28,.5,.37,.63,.45,.55],
]
pink_lines = [
    [.25,.3,.72,.9,.85,.3],[.3,.4,.75,.95,.88,.25],[.35,.5,.73,.97,.86,.3],[.28,.55,.78,.93,.83,.2],
    [.4,.6,.74,.92,.85,.28],[.45,.7,.76,.96,.87,.32],[.3,.35,.72,.88,.8,.22],[.26,.45,.7,.91,.82,.27],
    [.5,.65,.77,.94,.84,.3],[.2,0,.6,.9,.8,.3],[.3,.23,.5,.85,.8],[.22,.75,1.0,.95,.92,.5],
    [.35,.6,.6,.58,.6,.2,.25,.35,.65,.15,0,.5,.67,.43,.55,.56,.5,.6,.55],
    [.4,.6,.6,.58,.6,.3,.35,.42,.68,.22,.12,.45,.55,.37,.52,.5,.6,.55,.35],
]
red_lines = [
    [.45,.93,.6,.4,.4,.55],[.3,.6,.6,.62,.5,.3],[.6,.9,.7,.35,.65],
    [.4,.8,.6,.5,.4,.1,0,.25,.7,.2,.15],[.35,.27,.4,.4,.4,.4],[.5,.92,.7,.8,.75],
]
olive_lines = [
    [.3,.65,.45,0,0,.4,.5,0,.52,0,.1,.45],
    [.35,.6,.4,.26,.21,.4,.88,.6,.9,.37,.2,.4],
    [.3,.6,.5,.41,.41,.5,.86,.55,.85,.3,.17,.5],
    [.3,.55,.45,.4,.32,.6,.7,.5,.63,.25,.22,.45],
]
gray_line = [.3,.85,.2,.78,.32,.18,.55,.37,.75,.2,.2,.5,.75,.27,.5,.15,.68,.5,.5]
teal_lines = [
    [.3,.3,.92,.8,.78,.35,.45,.4,.7,.25,.33,.5,.7,.3,.45,.45,.6,.55,.5],
    [.28,.32,.68,.66,.66,.38],
]

dot_sizes = {BLUE: 46, PINK: 34, GREEN: 32, RED: 28, OLIVE: 28, TEAL: 28}
dot_alpha = {BLUE: 0.8, PINK: 0.7, GREEN: 0.7, RED: 0.6, OLIVE: 0.6, TEAL: 0.6}


def px_axes(left, top, right, bottom):
    return fig.add_axes([left / W, 1 - bottom / H, (right - left) / W, (bottom - top) / H])


def minor_of(ticks):
    step = ticks[1] - ticks[0]
    return [ticks[0] - step / 2] + [t + step / 2 for t in ticks]


def style_panel(ax, x_range, x_ticks, y_range, y_ticks):
    ax.set_facecolor('#EBEBEB')
    ax.set_xticks(x_ticks)
    ax.set_yticks(y_ticks)
    ax.set_xticks(minor_of(x_ticks), minor=True)
    ax.set_yticks(minor_of(y_ticks), minor=True)
    ax.set_xlim(x_range)
    ax.set_ylim(y_range)
    ax.grid(which='major', color='white', lw=1.1)
    ax.grid(which='minor', color='white', lw=0.5)
    ax.set_axisbelow(True)
    ax.tick_params(which='minor', length=0)
    ax.tick_params(which='major', length=0, labelbottom=False, labelleft=False)
    for s in ax.spines.values():
        s.set_visible(False)


def dots(ax, pts, color):
    if pts:
        xs, ys = zip(*pts)
        ax.scatter(xs, ys, s=dot_sizes[color], color=color, alpha=dot_alpha[color], linewidths=0, zorder=3)


def density(ax, pts, color):
    xs, ys = zip(*pts)
    ax.fill(xs, ys, facecolor=color, edgecolor='black', lw=1.3, zorder=3)


fig = plt.figure(figsize=(W / 100, H / 100), dpi=100, facecolor='white')

col_px = [(68.5, 182), (189, 302), (309.5, 423), (430, 544), (551, 665), (672, 785)]
row_px = [(29, 147), (155, 273), (282, 399), (408, 526), (533, 652), (659, 777)]
x_ranges = [pc1_range, pc2_range, pc3_range, pc4_range, pc5_range, pc6_range]
x_ticks = [pc1_ticks, pc2_ticks, pc3_ticks, pc4_ticks, pc5_ticks, pc6_ticks]
y_ranges = [pc1_y_range, pc2_range, pc3_range, pc4_range, pc5_range, pc6_range]
y_ticks = [pc1_y_ticks, pc2_ticks, pc3_ticks, pc4_ticks, pc5_ticks, pc6_ticks]
y_formats = ['{:.0f}', '{:.2f}', '{:.2f}', '{:.2f}', '{:.1f}', '{:.2f}']
diag_y_ranges = [pc1_y_range, (-4.4, 105.3), (-3.7, 104), (-5.6, 104), (-4.9, 104.9), (-4.4, 105.6)]

scatter_panels = {
    (1, 0): (p21_red, p21_olive, p21_teal, p21_blue, p21_pink, p21_green),
    (2, 0): (p31_red, p31_olive, p31_teal, p31_blue, p31_pink, p31_green),
    (3, 0): (p41_red, p41_olive, p41_teal, p41_blue, p41_pink, p41_green),
    (4, 0): (p51_red, p51_olive, p51_teal, p51_blue, p51_pink, p51_green),
    (5, 0): (p61_red, p61_olive, p61_teal, p61_blue, p61_pink, p61_green),
    (2, 1): (p32_red, p32_olive, p32_teal, p32_blue, p32_pink, p32_green),
    (3, 1): (p42_red, p42_olive, p42_teal, p42_blue, p42_pink, p42_green),
    (4, 1): (p52_red, p52_olive, p52_teal, p52_blue, p52_pink, p52_green),
    (5, 1): (p62_red, p62_olive, p62_teal, p62_blue, p62_pink, p62_green),
    (3, 2): (p43_red, p43_olive, p43_teal, p43_blue, p43_pink, p43_green),
    (4, 2): (p53_red, p53_olive, p53_teal, p53_blue, p53_pink, p53_green),
    (5, 2): (p63_red, p63_olive, p63_teal, p63_blue, p63_pink, p63_green),
    (4, 3): (p54_red, p54_olive, p54_teal, p54_blue, p54_pink, p54_green),
    (5, 3): (p64_red, p64_olive, p64_teal, p64_blue, p64_pink, p64_green),
    (5, 4): (p65_red, p65_olive, p65_teal, p65_blue, p65_pink, p65_green),
}
scatter_colors = [RED, OLIVE, TEAL, BLUE, PINK, GREEN]

density_panels = {
    0: [(d1_green, GREEN), (d1_olive, OLIVE), (d1_red, RED), (d1_pink, PINK), (d1_teal, TEAL), (d1_gray, GRAY)],
    1: [(d2_olive, OLIVE), (d2_pink, PINK), (d2_teal, TEAL), (d2_green, GREEN), (d2_gray, GRAY)],
    2: [(d3_red, RED), (d3_olive, OLIVE), (d3_pink, PINK), (d3_teal, TEAL), (d3_green, GREEN), (d3_gray, GRAY)],
    3: [(d4_olive, OLIVE), (d4_teal, TEAL), (d4_pink, PINK), (d4_green, GREEN), (d4_gray, GRAY)],
    4: [(d5_red, RED), (d5_olive, OLIVE), (d5_pink, PINK), (d5_green, GREEN), (d5_gray, GRAY)],
    5: [(d6_red, RED), (d6_olive, OLIVE), (d6_teal, TEAL), (d6_green, GREEN), (d6_pink, PINK), (d6_gray, GRAY)],
}

for r in range(6):
    for c in range(r + 1):
        ax = px_axes(col_px[c][0], row_px[r][0], col_px[c][1], row_px[r][1])
        if r == c:
            yr = diag_y_ranges[r]
            yt = y_ticks[0] if r == 0 else [0, 25, 50, 75, 100]
        else:
            yr = y_ranges[r]
            yt = y_ticks[r]
        style_panel(ax, x_ranges[c], x_ticks[c], yr, yt)
        if r == c:
            for pts, color in density_panels[r]:
                density(ax, pts, color)
        else:
            for pts, color in zip(scatter_panels[(r, c)], scatter_colors):
                dots(ax, pts, color)
        if c == 0:
            ax.tick_params(axis='y', which='major', length=3, width=0.8, color='#555555',
                           labelleft=True, labelsize=8.5, labelcolor='#7F7F7F', pad=1.5)
            ax.set_yticklabels([y_formats[r].format(v) for v in y_ticks[r]])
        if r == 5:
            ax.tick_params(axis='x', which='major', length=3, width=0.8, color='#555555')

# strips on top and on the right
for i, name in enumerate(pc_names):
    left, right = col_px[i]
    sx = px_axes(left, 5, right, 29)
    sx.set_facecolor('#D9D9D9')
    sx.set_xticks([])
    sx.set_yticks([])
    for s in sx.spines.values():
        s.set_visible(False)
    sx.text(0.5, 0.47, name, transform=sx.transAxes, ha='center', va='center', fontsize=8.5, color='#5A5A5A')
    top, bottom = row_px[i]
    sy = px_axes(785, top, 808, bottom)
    sy.set_facecolor('#D9D9D9')
    sy.set_xticks([])
    sy.set_yticks([])
    for s in sy.spines.values():
        s.set_visible(False)
    sy.text(0.5, 0.5, name, transform=sy.transAxes, ha='center', va='center', rotation=-90, fontsize=8.5, color='#5A5A5A')

# panel B
axb = px_axes(879, 378, 1332, 766)
style_panel(axb, (0.388, 18.5), list(range(1, 19)), (-0.05, 1.048), [0, .25, .5, .75, 1.0])
axb.set_xticks([], minor=True)
axb.set_xlim(0.388, 18.5)
for line in blue_lines:
    axb.plot(pc_axis[:len(line)], line, color=BLUE, lw=1, alpha=0.45, zorder=2)
for a, b in zip(blue_fan_pc5, blue_fan_pc6):
    axb.plot([5, 6], [a, b], color=BLUE, lw=1, alpha=0.5, zorder=2)
for a, b in zip(blue_low_pc4, blue_low_pc5):
    axb.plot([4, 5], [a, b], color=BLUE, lw=1, alpha=0.5, zorder=2)
for line in red_lines:
    axb.plot(pc_axis[:len(line)], line, color=RED, lw=1, alpha=0.6, zorder=2)
for line in olive_lines:
    axb.plot(pc_axis[:len(line)], line, color=OLIVE, lw=1, alpha=0.55, zorder=2)
axb.fill(blue_top_x + blue_bot_x[::-1], blue_top_y + blue_bot_y[::-1], color=BLUE, lw=0, zorder=3)
axb.fill(pink_left_x, pink_left_y, color=PINK, alpha=0.8, lw=0, zorder=4)
axb.fill(pink_top_x + pink_top_x[::-1], pink_top_y + pink_bot_y[::-1], color=PINK, alpha=0.85, lw=0, zorder=2.5)
for line in pink_lines:
    axb.plot(pc_axis[:len(line)], line, color=PINK, lw=1, alpha=0.55, zorder=4)
for line in red_lines:
    axb.plot(pc_axis[:2], line[:2], color=RED, lw=1.2, alpha=0.7, zorder=4)
for line in teal_lines:
    axb.plot(pc_axis[:len(line)], line, color=TEAL, lw=1, alpha=0.5, zorder=4)
axb.plot(pc_axis, gray_line, color='#7F8F8F', lw=1.3, alpha=0.75, zorder=4)
for a, b, d in zip(green_fan_pc1, green_fan_pc2, green_fan_pc3):
    axb.plot([1, 2, 3], [a, b, d], color=GREEN, lw=1, alpha=0.75, zorder=5)
for line in green_lines:
    axb.plot(pc_axis, line, color=GREEN, lw=1.1, alpha=0.6, zorder=5)
axb.tick_params(axis='both', which='major', length=3, width=0.8, color='#555555', labelleft=True,
                labelbottom=True, labelsize=9, labelcolor='#7F7F7F', pad=2)
axb.set_xticklabels(pc_tick_labels)
axb.set_yticklabels(['0.00', '0.25', '0.50', '0.75', '1.00'])

# cut off axis title under the PC17 label
fig.text(1280 / W, 1 - 784 / H, 'PC', color='#555555', fontsize=10, ha='center', va='top', zorder=1)
fig.add_artist(Rectangle((1265 / W, 1 - 800 / H), 30 / W, 12.5 / H, transform=fig.transFigure,
                         facecolor='white', edgecolor='none', zorder=2))

# legend drawn by hand, it sits beside the panels
fig.add_artist(Rectangle((886 / W, 1 - 281 / H), 26 / W, 172 / H, transform=fig.transFigure,
                         facecolor='#F2F2F2', edgecolor='none'))
key_y = [122.7, 151, 180, 209, 237.7, 266.7]
text_y = [123, 151, 179, 207, 235, 264]
label_font = ['Lato', 'DejaVu Sans']
for label, color, ky, ty in zip(legend_labels, legend_colors, key_y, text_y):
    fig.add_artist(Rectangle((888 / W, 1 - (ky + 3.5) / H), 23 / W, 7 / H, transform=fig.transFigure,
                             facecolor=color, edgecolor='none'))
    fig.text(933 / W, 1 - ty / H, label, fontsize=13.5, family=label_font, va='center', color='#111111')

fig.text(880 / W, 1 - 46 / H, 'Race and ethnicity', fontsize=19.7, fontweight='bold', family=label_font, va='center')
fig.text(880 / W, 1 - 83 / H, 'reported in CF registry', fontsize=19.7, fontweight='bold', family=label_font, va='center')
fig.text(17 / W, 1 - 33 / H, 'A', fontsize=16, fontweight='bold', family=label_font, ha='center', va='center')
fig.text(830 / W, 1 - 465 / H, 'B', fontsize=16, fontweight='bold', family=label_font, ha='center', va='center')
fig.text(1108 / W, 1 - 810 / H, 'PC', fontsize=12, fontweight='bold', family=label_font, ha='center', va='center')

fig.savefig('out.png', dpi=100)
